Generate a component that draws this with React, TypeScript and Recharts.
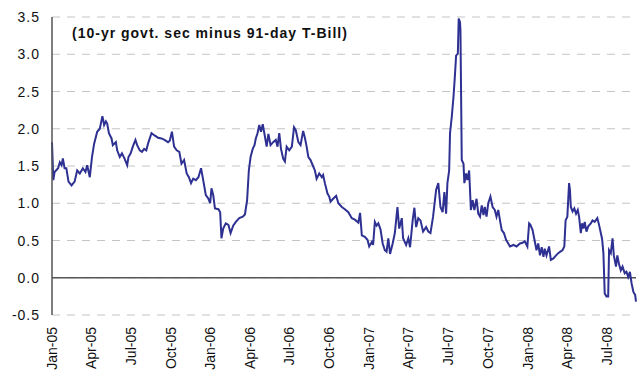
import type React from "react";
import { LineChart, Line, XAxis, YAxis, CartesianGrid, ReferenceLine } from "recharts";

const FONT = '"Liberation Sans", Arial, Helvetica, sans-serif';
const LINE_COLOR = "#2E3192";
const AXIS_COLOR = "#555555";

// quarter starts, counted in days from 1 Jan 2005
const QUARTER_DAYS = [0, 90, 181, 273, 365, 455, 546, 638, 730, 820, 911, 1003, 1095, 1186, 1277];
const QUARTER_LABELS = [
  "Jan-05", "Apr-05", "Jul-05", "Oct-05", "Jan-06", "Apr-06", "Jul-06", "Oct-06",
  "Jan-07", "Apr-07", "Jul-07", "Oct-07", "Jan-08", "Apr-08", "Jul-08",
];
const Y_TICKS = [-0.5, 0, 0.5, 1, 1.5, 2, 2.5, 3, 3.5];

// observation dates (days from 1 Jan 2005)
const DAYS = [
  0, 3, 6, 14, 18, 22, 25, 29, 33, 38, 45, 52, 58, 64, 71, 77, 81, 87, 92, 97,
  104, 110, 116, 120, 124, 127, 131, 137, 140, 147, 150, 156, 161, 167, 173, 176, 181, 186, 192, 196,
  202, 207, 212, 217, 221, 229, 236, 244, 252, 259, 267, 271, 276, 281, 287, 293, 298, 304, 310, 315,
  320, 325, 331, 337, 343, 348, 354, 360, 364, 367, 371, 375, 383, 387, 390, 394, 400, 406, 411, 417,
  423, 431, 439, 444, 449, 453, 457, 462, 466, 469, 473, 477, 481, 485, 489, 494, 498, 503, 509, 515,
  519, 523, 527, 532, 536, 540, 546, 552, 557, 561, 567, 572, 578, 582, 586, 590, 595, 600, 605, 609,
  615, 621, 624, 628, 634, 638, 641, 647, 654, 659, 667, 674, 682, 690, 697, 705, 709, 713, 720, 726,
  730, 736, 739, 743, 747, 751, 756, 761, 766, 770, 774, 778, 784, 789, 795, 799, 805, 808, 815, 820,
  824, 830, 834, 838, 843, 848, 854, 861, 866, 871, 877, 884, 889, 894, 899, 903, 907, 910, 914, 916,
  920, 924, 927, 930, 934, 936, 939, 940, 943, 947, 949, 953, 956, 960, 964, 968, 972, 977, 981, 985,
  989, 993, 996, 1000, 1004, 1009, 1014, 1019, 1023, 1027, 1031, 1035, 1040, 1045, 1050, 1054, 1062, 1069, 1077, 1083,
  1088, 1094, 1098, 1101, 1106, 1110, 1115, 1119, 1123, 1127, 1131, 1134, 1138, 1144, 1148, 1154, 1160, 1165, 1170, 1175,
  1179, 1182, 1186, 1190, 1192, 1194, 1198, 1202, 1206, 1210, 1213, 1217, 1220, 1223, 1226, 1230, 1234, 1240, 1244, 1249,
  1255, 1259, 1263, 1266, 1269, 1272, 1276, 1280, 1282, 1286, 1290, 1293, 1298, 1301, 1305, 1309, 1313, 1318, 1322, 1326,
  1330, 1334, 1338, 1342, 1344,
];

// 10-yr govt. security yield minus 91-day T-Bill yield, percentage points
const SPREAD = [
  1.82, 1.31, 1.42, 1.47, 1.55, 1.51, 1.6, 1.47, 1.47, 1.29, 1.24, 1.29, 1.44, 1.4, 1.47, 1.42, 1.51, 1.35, 1.62, 1.8,
  1.96, 2.0, 2.17, 2.05, 2.1, 2.07, 1.94, 1.87, 1.78, 1.82, 1.71, 1.62, 1.67, 1.6, 1.51, 1.62, 1.67, 1.76, 1.85, 1.78,
  1.71, 1.69, 1.73, 1.71, 1.8, 1.94, 1.91, 1.88, 1.87, 1.85, 1.82, 1.84, 1.96, 1.76, 1.71, 1.69, 1.53, 1.58, 1.4, 1.35,
  1.27, 1.33, 1.31, 1.35, 1.47, 1.31, 1.11, 1.06, 1.0, 1.2, 1.11, 0.93, 0.92, 0.88, 0.53, 0.66, 0.73, 0.71, 0.6, 0.7,
  0.75, 0.8, 0.82, 0.85, 1.04, 1.44, 1.62, 1.73, 1.78, 1.87, 1.94, 2.05, 1.96, 2.06, 1.93, 1.76, 1.93, 1.78, 1.82, 1.85,
  1.76, 1.94, 1.73, 1.6, 1.56, 1.76, 1.71, 1.76, 2.02, 1.98, 1.82, 1.78, 1.97, 1.88, 1.76, 1.62, 1.58, 1.51, 1.44, 1.33,
  1.4, 1.35, 1.38, 1.27, 1.13, 1.09, 1.02, 1.06, 1.1, 1.0, 0.95, 0.92, 0.88, 0.8, 0.78, 0.74, 0.87, 0.57, 0.55, 0.51,
  0.42, 0.48, 0.44, 0.75, 0.7, 0.73, 0.65, 0.46, 0.37, 0.35, 0.53, 0.32, 0.46, 0.6, 0.95, 0.66, 0.8, 0.53, 0.44, 0.53,
  0.41, 0.77, 0.94, 0.68, 0.8, 0.77, 0.62, 0.68, 0.62, 0.6, 0.82, 1.18, 1.27, 0.95, 0.88, 1.15, 0.86, 1.27, 1.44, 1.94,
  2.16, 2.43, 2.69, 2.98, 3.01, 3.48, 3.43, 3.32, 1.58, 1.53, 1.27, 1.4, 1.31, 1.44, 0.91, 1.04, 0.91, 1.06, 0.86, 0.82,
  0.97, 0.84, 0.95, 0.82, 1.0, 1.09, 0.95, 0.91, 0.82, 0.91, 0.77, 0.64, 0.6, 0.51, 0.46, 0.42, 0.44, 0.42, 0.46, 0.47,
  0.49, 0.42, 0.73, 0.71, 0.64, 0.52, 0.37, 0.46, 0.3, 0.41, 0.28, 0.39, 0.3, 0.42, 0.24, 0.26, 0.3, 0.33, 0.35, 0.37,
  0.42, 0.77, 0.82, 1.27, 1.18, 0.95, 0.89, 0.93, 0.86, 0.91, 0.82, 0.6, 0.73, 0.66, 0.75, 0.62, 0.69, 0.73, 0.77, 0.75,
  0.8, 0.71, 0.6, 0.52, 0.33, -0.21, -0.25, -0.25, 0.37, 0.33, 0.53, 0.3, 0.15, 0.3, 0.18, 0.1, 0.15, 0.06, 0.08, 0.01,
  0.08, -0.08, -0.19, -0.23, -0.32,
];

const data = DAYS.map((day, i) => ({ day, spread: SPREAD[i] }));

function QuarterTick({ x, y, payload }: { x: number; y: number; payload: { value: number } }) {
  const label = QUARTER_LABELS[QUARTER_DAYS.indexOf(payload.value)] ?? "";
  return (
    <text
      x={x}
      y={y}
      transform={`rotate(-90, ${x}, ${y})`}
      textAnchor="end"
      dy="0.35em"
      fontSize={14}
      fontFamily={FONT}
      fill="#111"
    >
      {label}
    </text>
  );
}

function ValueTick({ x, y, payload }: { x: number; y: number; payload: { value: number } }) {
  return (
    <text
      x={x}
      y={y}
      textAnchor="end"
      dy="0.36em"
      fontSize={14}
      fontFamily={FONT}
      letterSpacing={1}
      fill="#111"
    >
      {payload.value.toFixed(1)}
    </text>
  );
}

const TITLE_STYLE: React.CSSProperties = {
  position: "absolute",
  left: 72,
  top: 25.5,
  fontFamily: FONT,
  fontWeight: 700,
  fontSize: 14,
  lineHeight: "14px",
  letterSpacing: 1,
  color: "#111",
  whiteSpace: "nowrap",
};

export default function App() {
  return (
    <div style={{ position: "fixed", left: 0, top: 0, width: 641, height: 373, background: "#fff" }}>
      <LineChart width={641} height={373} data={data} margin={{ top: 17, right: 5, bottom: 0, left: 0 }}>
        <CartesianGrid vertical={false} stroke="#c4c4c4" strokeDasharray="8 7" />
        <XAxis
          dataKey="day"
          type="number"
          domain={[0, 1344]}
          ticks={QUARTER_DAYS}
          interval={0}
          height={58}
          axisLine={false}
          tickLine={false}
          tickSize={0}
          tickMargin={12}
          tick={QuarterTick}
        />
        <YAxis
          domain={[-0.5, 3.5]}
          ticks={Y_TICKS}
          interval={0}
          width={52}
          axisLine={{ stroke: AXIS_COLOR, strokeWidth: 1.5 }}
          tickLine={false}
          tickSize={0}
          tickMargin={12}
          tick={ValueTick}
        />
        <ReferenceLine y={0} stroke={AXIS_COLOR} strokeWidth={1.5} />
        <Line
          type="linear"
          dataKey="spread"
          stroke={LINE_COLOR}
          strokeWidth={2}
          dot={false}
          isAnimationActive={false}
        />
      </LineChart>
      <div style={TITLE_STYLE}>(10-yr govt. sec minus 91-day T-Bill)</div>
    </div>
  );
}
